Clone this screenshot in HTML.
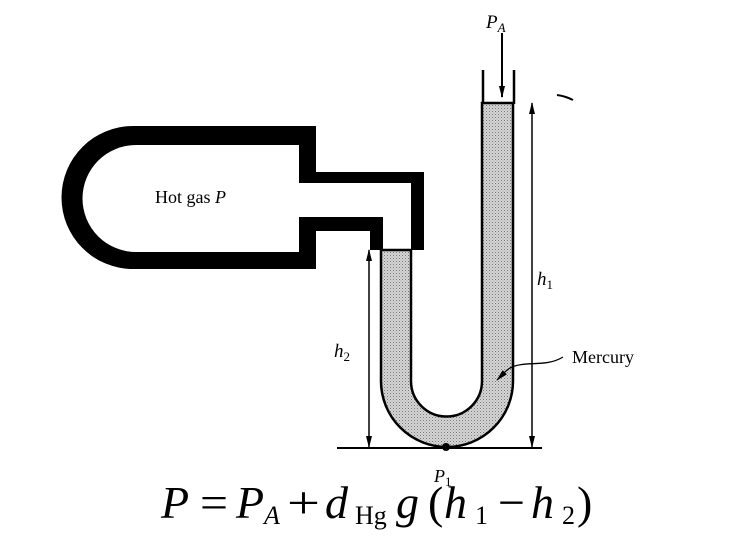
<!DOCTYPE html>
<html><head><meta charset="utf-8"><style>
html,body{margin:0;padding:0;background:#fff;width:738px;height:538px;overflow:hidden}
svg{display:block}
text{font-family:"Liberation Serif",serif;fill:#000}
.e{font-size:46px}
.s{font-size:26px}
.i{font-style:italic}
</style></head><body>
<svg width="738" height="538" viewBox="0 0 738 538" xmlns="http://www.w3.org/2000/svg">
<defs>
<marker id="ah" viewBox="0 0 12 6" refX="11" refY="3" markerWidth="12" markerHeight="6" orient="auto-start-reverse" markerUnits="userSpaceOnUse">
<path d="M0,0 L12,3 L0,6 z" fill="#000"/></marker>
<pattern id="dots" width="3" height="3" patternUnits="userSpaceOnUse">
<rect width="3" height="3" fill="#d6d6d6"/><rect width="1" height="1" fill="#777"/><rect x="1.5" y="1.5" width="1" height="1" fill="#999"/></pattern>
</defs>
<path d="M133,126 H316 V172 H424 V250 H370 V231 H316 V269 H133 A71.5,71.5 0 0 1 133,126 Z" fill="#000"/>
<path d="M136,145 H299 V183 H411 V250 H383 V217 H299 V252 H136 A53.5,53.5 0 0 1 136,145 Z" fill="#fff"/>
<path d="M381,250 H411 V381 A35.5,35.5 0 0 0 482,381 V103 H513 V381 A66,66 0 0 1 381,381 Z" fill="url(#dots)" stroke="#000" stroke-width="2.5"/>
<line x1="381" y1="250" x2="411" y2="250" stroke="#000" stroke-width="1"/>
<line x1="483" y1="70" x2="483" y2="104" stroke="#000" stroke-width="2.5"/>
<line x1="514" y1="70" x2="514" y2="104" stroke="#000" stroke-width="2.5"/>
<line x1="502" y1="33" x2="502" y2="97" stroke="#000" stroke-width="2" marker-end="url(#ah)"/>
<text x="486" y="28" font-size="19" font-style="italic">P<tspan font-size="13" dy="4">A</tspan></text>
<line x1="337" y1="448" x2="542" y2="448" stroke="#000" stroke-width="2"/>
<circle cx="446" cy="447" r="4" fill="#000"/>
<line x1="369" y1="250" x2="369" y2="447" stroke="#000" stroke-width="1.5" marker-start="url(#ah)" marker-end="url(#ah)"/>
<line x1="532" y1="103" x2="532" y2="447" stroke="#000" stroke-width="1.5" marker-start="url(#ah)" marker-end="url(#ah)"/>
<text x="537" y="285" font-size="19" font-style="italic">h<tspan font-style="normal" font-size="13" dy="4">1</tspan></text>
<text x="334" y="357" font-size="19" font-style="italic">h<tspan font-style="normal" font-size="13" dy="4">2</tspan></text>
<text x="572" y="363" font-size="18">Mercury</text>
<path d="M563,357 C545,368 525,360 510,368 C505,371 502,375 497,380" fill="none" stroke="#000" stroke-width="1.3" marker-end="url(#ah)"/>
<path d="M557,95 Q565,96 573,100" fill="none" stroke="#000" stroke-width="2"/>
<text x="155" y="203" font-size="18">Hot gas <tspan font-style="italic">P</tspan></text>
<text x="434" y="482" font-size="18" font-style="italic">P<tspan font-style="normal" font-size="13" dy="4">1</tspan></text>
<text class="e i" x="161" y="518">P</text>
<text class="e" x="200" y="518" textLength="28" lengthAdjust="spacingAndGlyphs">=</text>
<text class="e i" x="236" y="518">P</text>
<text class="s i" x="264" y="524">A</text>
<text class="e" x="287" y="518" textLength="33" lengthAdjust="spacingAndGlyphs">+</text>
<text class="e i" x="325" y="518">d</text>
<text class="s" x="355" y="524">Hg</text>
<text class="e i" x="396" y="518">g</text>
<text class="e" x="428" y="518">(</text>
<text class="e i" x="444" y="518">h</text>
<text class="s" x="475" y="524">1</text>
<text class="e" x="498" y="518" textLength="27" lengthAdjust="spacingAndGlyphs">−</text>
<text class="e i" x="531" y="518">h</text>
<text class="s" x="562" y="524">2</text>
<text class="e" x="577" y="518">)</text>
</svg>
</body></html>
